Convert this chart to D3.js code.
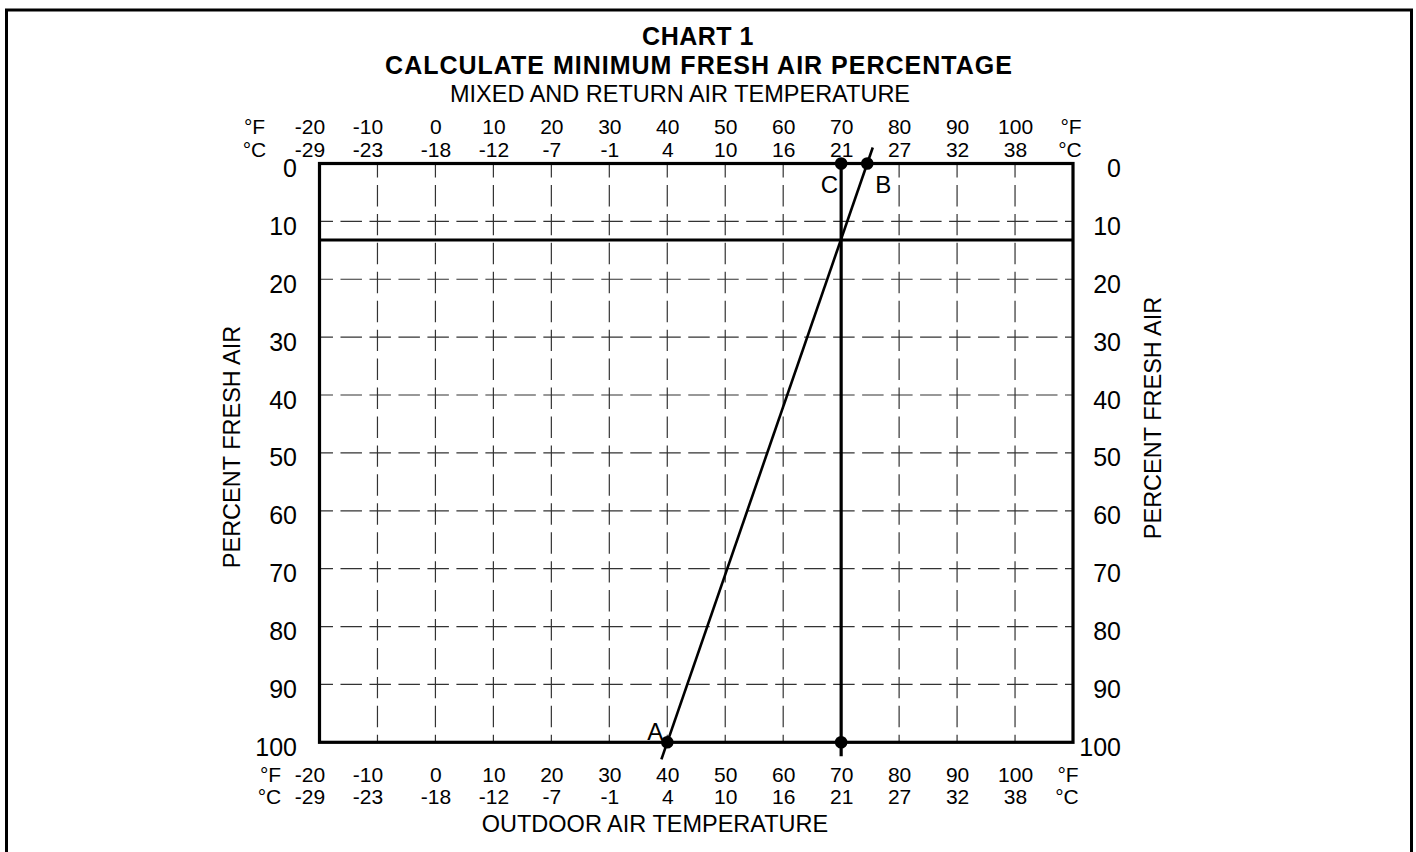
<!DOCTYPE html>
<html>
<head>
<meta charset="utf-8">
<script src="https://cdn.jsdelivr.net/npm/d3@7"></script>
<style>
  body { margin: 0; background: #fff; }
  svg { display: block; font-family: "Liberation Sans", Arial, sans-serif; }
</style>
</head>
<body>
<svg id="chart" width="1416" height="852"></svg>
<script>
// tick values
var fahrenheit = [-20, -10, 0, 10, 20, 30, 40, 50, 60, 70, 80, 90, 100];
var celsius = [-29, -23, -18, -12, -7, -1, 4, 10, 16, 21, 27, 32, 38];
var percentTicks = [0, 10, 20, 30, 40, 50, 60, 70, 80, 90, 100];

// worked example: A = outdoor air, B = return air, C = mixed air
var pointLabels = ["A", "B", "C"];
var pointTemps = [40, 74.5, 70];
var pointPercents = [100, 0, 0];
var minFreshAir = 13.2; // horizontal result line

var svg = d3.select("#chart");

var x = d3.scaleLinear().domain([-20, 110]).range([319.5, 1073]);
var y = d3.scaleLinear().domain([0, 100]).range([163.5, 742.3]);

// outer frame (bottom edge runs off the page)
svg.append("rect")
    .attr("x", 6.5).attr("y", 10)
    .attr("width", 1405).attr("height", 900)
    .attr("fill", "none").attr("stroke", "#000").attr("stroke-width", 3);

// titles
svg.append("text").attr("x", 698).attr("y", 45).attr("text-anchor", "middle")
    .attr("font-size", 25).attr("font-weight", "bold").attr("letter-spacing", 0.5)
    .text("CHART 1");
svg.append("text").attr("x", 699).attr("y", 74).attr("text-anchor", "middle")
    .attr("font-size", 25).attr("font-weight", "bold").attr("letter-spacing", 1)
    .text("CALCULATE MINIMUM FRESH AIR PERCENTAGE");
svg.append("text").attr("x", 680).attr("y", 101.7).attr("text-anchor", "middle")
    .attr("font-size", 23.5)
    .text("MIXED AND RETURN AIR TEMPERATURE");
svg.append("text").attr("x", 655).attr("y", 831.7).attr("text-anchor", "middle")
    .attr("font-size", 23.5)
    .text("OUTDOOR AIR TEMPERATURE");

// dashed grid, dashes locked to the cell size so every crossing shows a "+"
var cellX = x(10) - x(0), cellY = y(10) - y(0);
var grid = svg.append("g").attr("stroke", "#333").attr("stroke-width", 1.2).attr("fill", "none");
grid.selectAll(".vgrid").data(fahrenheit.slice(1)).enter().append("line")
    .attr("class", "vgrid")
    .attr("x1", function(d) { return x(d); }).attr("x2", function(d) { return x(d); })
    .attr("y1", y(0)).attr("y2", y(100))
    .attr("stroke-dasharray", (cellY / 2 - 7.5) + "," + 7.5)
    .attr("stroke-dashoffset", 7.5);
grid.selectAll(".hgrid").data(percentTicks.slice(1, -1)).enter().append("line")
    .attr("class", "hgrid")
    .attr("x1", x(-20)).attr("x2", x(110))
    .attr("y1", function(d) { return y(d); }).attr("y2", function(d) { return y(d); })
    .attr("stroke-dasharray", (cellX / 2 - 7.5) + "," + 7.5)
    .attr("stroke-dashoffset", 8 - (x(-10) - x(-20) - cellX));

// result line
svg.append("line")
    .attr("x1", x(-20)).attr("x2", x(110))
    .attr("y1", y(minFreshAir)).attr("y2", y(minFreshAir))
    .attr("stroke", "#000").attr("stroke-width", 3);

// plot frame
svg.append("rect")
    .attr("x", x(-20)).attr("y", y(0))
    .attr("width", x(110) - x(-20)).attr("height", y(100) - y(0))
    .attr("fill", "none").attr("stroke", "#000").attr("stroke-width", 3.2);

// temperature axes, two rows top and bottom
function tempRow(axisFn, yPos, labels) {
    var g = svg.append("g").attr("transform", "translate(0," + yPos + ")")
        .call(axisFn(x).tickValues(fahrenheit).tickSize(0).tickPadding(0)
            .tickFormat(function(d, i) { return labels[i]; }));
    g.select(".domain").remove();
    g.selectAll("text")
        .attr("y", 0).attr("dy", 0)
        .attr("dx", function(d) { return d < 0 ? -10 : 0; })
        .attr("font-size", 21).attr("font-family", null).attr("fill", "#000");
    return g;
}
tempRow(d3.axisTop, 134, fahrenheit);
tempRow(d3.axisTop, 156.7, celsius);
tempRow(d3.axisBottom, 782, fahrenheit);
tempRow(d3.axisBottom, 804, celsius);

// unit labels
var units = [
    ["°F", x(-20) - 65, 134], ["°C", x(-20) - 65, 156.7],
    ["°F", x(110) - 2, 134], ["°C", x(110) - 3, 156.7],
    ["°F", x(-20) - 49, 782], ["°C", x(-20) - 50, 804],
    ["°F", x(110) - 5, 782], ["°C", x(110) - 6, 804]
];
svg.selectAll(".unit").data(units).enter().append("text")
    .attr("class", "unit")
    .attr("x", function(d) { return d[1]; }).attr("y", function(d) { return d[2]; })
    .attr("text-anchor", "middle").attr("font-size", 21)
    .text(function(d) { return d[0]; });

// percent axes left and right
var yl = svg.append("g").attr("transform", "translate(297,0)")
    .call(d3.axisLeft(y).tickValues(percentTicks).tickSize(0).tickPadding(0));
var yr = svg.append("g").attr("transform", "translate(1121,0)")
    .call(d3.axisRight(y).tickValues(percentTicks).tickSize(0).tickPadding(0));
[yl, yr].forEach(function(g) {
    g.select(".domain").remove();
    g.selectAll("text")
        .attr("x", 0).attr("dy", 13).attr("text-anchor", "end")
        .attr("font-size", 25).attr("font-family", null).attr("fill", "#000");
});

svg.append("text").attr("transform", "translate(240,447) rotate(-90)")
    .attr("text-anchor", "middle").attr("font-size", 23.5).text("PERCENT FRESH AIR");
svg.append("text").attr("transform", "translate(1161,418) rotate(-90)")
    .attr("text-anchor", "middle").attr("font-size", 23.5).text("PERCENT FRESH AIR");

// construction lines
var ax = x(pointTemps[0]), ay = y(pointPercents[0]);
var bx = x(pointTemps[1]), by = y(pointPercents[1]);
var slope = (bx - ax) / (by - ay);
svg.append("line")
    .attr("x1", ax + slope * 17).attr("y1", ay + 17)
    .attr("x2", bx - slope * 16).attr("y2", by - 16)
    .attr("stroke", "#000").attr("stroke-width", 2.6);

svg.append("line")
    .attr("x1", x(pointTemps[2])).attr("x2", x(pointTemps[2]))
    .attr("y1", y(0)).attr("y2", y(100) + 14)
    .attr("stroke", "#000").attr("stroke-width", 3.2);

// dots: A, B, C and foot of the mixed-air line
var dots = pointTemps.map(function(t, i) { return [t, pointPercents[i]]; });
dots.push([pointTemps[2], 100]);
svg.selectAll(".dot").data(dots).enter().append("circle")
    .attr("class", "dot")
    .attr("cx", function(d) { return x(d[0]); })
    .attr("cy", function(d) { return y(d[1]); })
    .attr("r", 6.3).attr("fill", "#000");

// point letters
var letterPos = {
    A: { dx: -4, dy: -2, anchor: "end" },
    B: { dx: 8, dy: 29, anchor: "start" },
    C: { dx: -3, dy: 29, anchor: "end" }
};
svg.selectAll(".ptlabel").data(pointLabels).enter().append("text")
    .attr("class", "ptlabel")
    .attr("x", function(d, i) { return x(pointTemps[i]) + letterPos[d].dx; })
    .attr("y", function(d, i) { return y(pointPercents[i]) + letterPos[d].dy; })
    .attr("text-anchor", function(d) { return letterPos[d].anchor; })
    .attr("font-size", 24)
    .text(function(d) { return d; });
</script>
</body>
</html>
